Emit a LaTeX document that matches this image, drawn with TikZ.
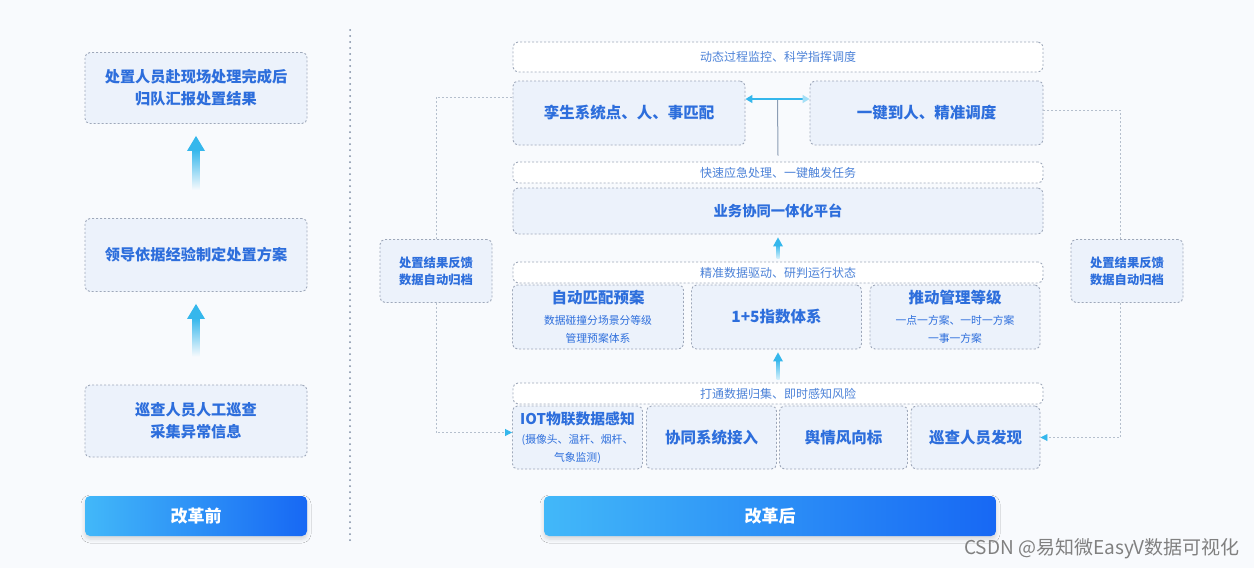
\documentclass[tikz,border=0pt]{standalone}
\usepackage{fontspec}
\setmainfont{Noto Sans CJK SC}
\usetikzlibrary{arrows.meta,calc,shadows.blur}
\definecolor{bg}{HTML}{F8FAFD}
\definecolor{boxfill}{HTML}{ECF2FB}
\definecolor{bord}{HTML}{9EA8BA}
\definecolor{txt}{HTML}{2D6EDC}
\definecolor{txtl}{HTML}{4C82D8}
\definecolor{cya}{HTML}{35B7EC}
\definecolor{btnL}{HTML}{42B8F9}
\definecolor{btnR}{HTML}{1768F4}
\definecolor{conn}{HTML}{B5BFCD}
\definecolor{vline}{HTML}{8C9DB4}
\definecolor{dots}{HTML}{7D8CA3}
\definecolor{wm}{HTML}{808080}
\newcommand\smalltxt{\fontsize{10.8}{15}\selectfont\mdseries}
\newcommand\bigtxt{\fontsize{15.5}{18}\selectfont\bfseries}
\tikzset{
  box/.style={draw=bord, dash pattern=on 2pt off 2pt, fill=boxfill, rounded corners=5pt,
    line width=0.9pt, text=txt, align=center, inner sep=0pt},
  lbox/.style={box, minimum width=222pt, font=\fontsize{15.2}{22}\selectfont\bfseries},
  ban/.style={box, fill=white, minimum width=530pt, text=txtl, font=\fontsize{12}{14}\selectfont},
  rbox/.style={box, font=\fontsize{15.5}{18}\selectfont\bfseries},
  sbox/.style={box, minimum width=112pt, minimum height=63pt, font=\fontsize{12.3}{17}\selectfont\bfseries},
  btn/.style={rounded corners=5pt, left color=btnL, right color=btnR, text=white, inner sep=0pt,
    font=\fontsize{17}{20}\selectfont\bfseries,
    blur shadow={shadow xshift=0pt, shadow yshift=-3pt, shadow opacity=15, shadow blur radius=4pt}},
  fb/.style={draw=conn, line width=0.9pt, dash pattern=on 2pt off 2pt},
  tip/.style={-{Triangle[length=7pt,width=7pt,color=cya]}},
}
\begin{document}
\begin{tikzpicture}[x=1pt,y=-1pt]
\useasboundingbox (0,0) rectangle (1254,568);
\fill[bg] (0,0) rectangle (1254,568);

% ---- left column (before reform)
\node[lbox, minimum height=71pt] (l1) at (196,88) {处置人员赴现场处理完成后\\归队汇报处置结果};
\node[lbox, minimum height=73pt] (l2) at (196,255) {领导依据经验制定处置方案};
\node[lbox, minimum height=72pt] (l3) at (196,421) {巡查人员人工巡查\\采集异常信息};
\node[btn, minimum width=222pt, minimum height=40pt] (bb) at (196,516) {改革前};

\foreach \a/\b in {l2/l1, l3/l2} {
  \shade[top color=cya, bottom color=bg] ($(\b.south)+(-3.5,26)$) rectangle ($(\a.north)+(3.5,-28)$);
  \fill[cya] ($(\b.south)+(0,12)$) -- ++(9,15) -- ++(-18,0) -- cycle;
}

% ---- divider
\coordinate (d1) at (350,30);
\coordinate (d2) at (350,540);
\draw[dots, line width=2pt, line cap=round, dash pattern=on 0pt off 6pt] (d1) -- (d2);

% ---- right column (after reform)
\node[ban, minimum height=30pt] (t1) at (778,57) {动态过程监控、科学指挥调度};
\node[rbox, minimum width=232pt, minimum height=64pt] (r1) at (629,113) {孪生系统点、人、事匹配};
\node[rbox, minimum width=233pt, minimum height=64pt] (r2) at (926.5,113) {一键到人、精准调度};
\node[ban, minimum height=21pt] (t2) at (778,172.5) {快速应急处理、一键触发任务};
\node[rbox, minimum width=530pt, minimum height=46pt, font=\fontsize{14.3}{18}\selectfont\bfseries] (p1) at (778,211) {业务协同一体化平台};
\node[ban, minimum height=21pt] (t3) at (778,272.5) {精准数据驱动、研判运行状态};
\node[rbox, minimum width=171pt, minimum height=64pt] (m1) at (598,317)
  {\bigtxt 自动匹配预案\\[3pt]\smalltxt 数据碰撞分场景分等级\\\smalltxt 管理预案体系};
\node[rbox, minimum width=170pt, minimum height=64pt] (m2) at (776.5,317) {1+5指数体系};
\node[rbox, minimum width=170pt, minimum height=64pt] (m3) at (955,317)
  {\bigtxt 推动管理等级\\[3pt]\smalltxt 一点一方案、一时一方案\\\smalltxt 一事一方案};
\node[ban, minimum height=21pt] (t4) at (778,393.5) {打通数据归集、即时感知风险};
\node[rbox, minimum width=130pt, minimum height=63pt] (q1) at (577.5,437.5)
  {\fontsize{14.8}{18}\selectfont\bfseries IOT物联数据感知\\[1pt]\smalltxt (摄像头、温杆、烟杆、\\\smalltxt 气象监测)};
\node[rbox, minimum width=130pt, minimum height=63pt] (q2) at (711.5,437.5) {协同系统接入};
\node[rbox, minimum width=128pt, minimum height=63pt] (q3) at (843.5,437.5) {舆情风向标};
\node[rbox, minimum width=129pt, minimum height=63pt] (q4) at (975.5,437.5) {巡查人员发现};
\node[btn, minimum width=452pt, minimum height=40pt] (ba) at (770,516) {改革后};

% double arrow and stem
\coordinate (jn) at ($(r1.east)!0.5!(r2.west)+(0,-14)$);
\draw[vline, line width=1pt] (jn) -- ($(t2.north)+(0,-6)$);
\draw[cya, line width=1.3pt, {Triangle[length=7pt,width=8pt]}-{Triangle[length=7pt,width=8pt,color=cya!45]}]
  ($(r1.east)+(0,-14)$) -- ($(r2.west)+(0,-14)$);

% small up arrows
\foreach \a/\b in {p1/t3, m2/t4} {
  \shade[top color=cya, bottom color=cya!20] ($(\b.north |- \a.south)+(-1.5,10)$) rectangle ($(\b.north)+(1.5,-3)$);
  \fill[cya] ($(\b.north |- \a.south)+(0,3)$) -- ++(5,9) -- ++(-10,0) -- cycle;
}

% ---- feedback boxes
\node[sbox] (s1) at (436,271) {处置结果反馈\\数据自动归档};
\node[sbox] (s2) at (1127,271) {处置结果反馈\\数据自动归档};
\draw[fb] (s1.north) |- ($(r1.west)+(0,-16)$);
\draw[fb, tip] (s1.south) |- ($(q1.west)+(0,-5)$);
\draw[fb] ($(s2.north)+(-7,0)$) |- ($(r2.east)+(0,-3)$);
\draw[fb, tip] ($(s2.south)+(-7,0)$) |- (q4.east);

% ---- watermark
\node[anchor=east, text=wm, inner sep=0pt, font=\fontsize{19}{22}\selectfont] (wmk) at (1240,549) {CSDN @易知微EasyV数据可视化};
\end{tikzpicture}
\end{document}
